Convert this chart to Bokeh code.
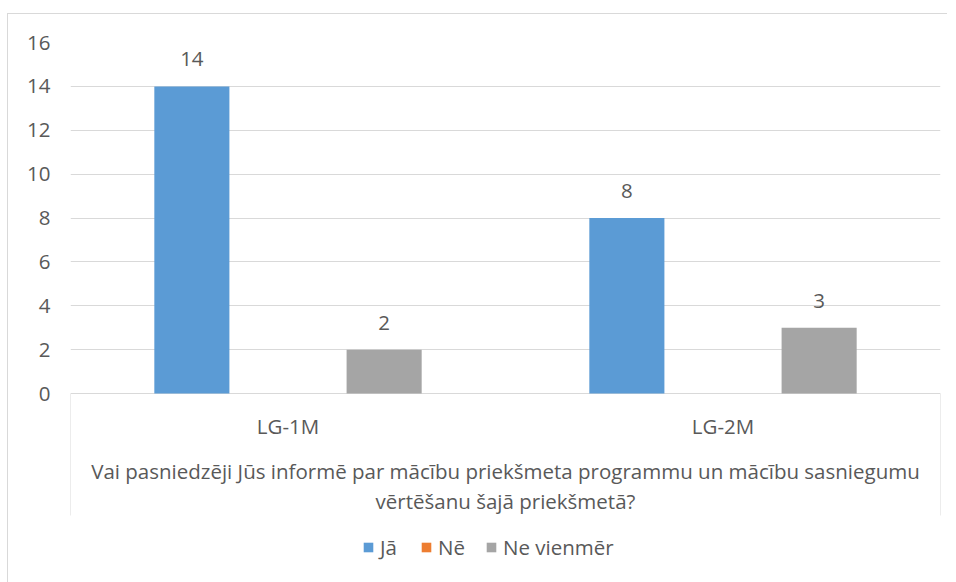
from bokeh.plotting import figure
from bokeh.models import Range1d, FixedTicker, ColumnDataSource, Legend, LegendItem
from bokeh.core.properties import value
from bokeh.embed import file_html
from bokeh.resources import INLINE

categories = ["LG-1M", "LG-2M"]
series = ["Jā", "Nē", "Ne vienmēr"]
ja = [14, 8]
ne = [0, 0]
ne_vienmer = [2, 3]
colors = ["#5B9BD5", "#ED7D31", "#A5A5A5"]
y_ticks = [0, 2, 4, 6, 8, 10, 12, 14, 16]
axis_title_lines = [
    "Vai pasniedzēji Jūs informē par mācību priekšmeta programmu un mācību sasniegumu",
    "vērtēšanu šajā priekšmetā?",
]

FONT = "Open Sans"
FS = "20.5px"
TXT = "#595959"
GRID = "#D9D9D9"

W, H = 940, 569
TOP, LEFT, RIGHT = 28, 62, 8
px_per_unit = 351 / 16.0
frame_h = H - TOP
y_start = 16 - frame_h / px_per_unit

n = len(categories)
p = figure(width=W, height=H, output_backend="svg", toolbar_location=None,
           x_range=Range1d(0, n), y_range=Range1d(y_start, 16),
           x_axis_location=None, min_border_top=TOP, min_border_left=LEFT,
           min_border_right=RIGHT, min_border_bottom=0)
p.margin = (13, 0, 0, 7)
p.styles = {"border-left": "1px solid #D9D9D9", "border-top": "1px solid #D9D9D9"}
p.outline_line_color = None
p.background_fill_color = "white"
p.border_fill_color = "white"
p.xgrid.visible = False
p.yaxis.ticker = FixedTicker(ticks=y_ticks)
p.ygrid.grid_line_color = GRID
p.ygrid.grid_line_width = 1
p.yaxis.axis_line_color = None
p.yaxis.major_tick_line_color = None
p.yaxis.minor_tick_line_color = None
p.yaxis.major_tick_out = 0
p.yaxis.major_tick_in = 0
p.yaxis.major_label_standoff = 20
p.yaxis.major_label_text_font = FONT
p.yaxis.major_label_text_font_size = FS
p.yaxis.major_label_text_color = TXT

cat_x = [i + 0.5 for i in range(n)]
offsets = [-0.221, 0.0, 0.221]
bar_w = 0.1726
vals = [ja, ne, ne_vienmer]

items = []
for name, v, off, col in zip(series, vals, offsets, colors):
    src = ColumnDataSource(dict(x=[c + off for c in cat_x], top=v,
                                lab=[str(t) for t in v]))
    r = p.vbar(x="x", top="top", width=bar_w, source=src, fill_color=col,
               line_color=None)
    items.append(LegendItem(label=name, renderers=[r]))
    lx = [c + off for c, t in zip(cat_x, v) if t > 0]
    ly = [t for t in v if t > 0]
    if lx:
        p.text(x=lx, y=ly, text=[str(t) for t in ly], y_offset=-27,
               text_align="center", text_baseline="middle",
               text_font=value(FONT), text_font_size=FS, text_color=TXT)

# multi-level category axis box
p.segment(x0=[0, n], y0=[0, 0], x1=[0, n], y1=[-5.56, -5.56],
          line_color=GRID, line_width=1)
p.text(x=cat_x, y=[-1.46] * n, text=categories, text_align="center",
       text_baseline="middle", text_font=value(FONT), text_font_size=FS,
       text_color=TXT)
p.text(x=[n / 2.0] * 2, y=[-3.51, -4.88], text=axis_title_lines,
       text_align="center", text_baseline="middle", text_font=value(FONT),
       text_font_size=FS, text_color=TXT)

legend = Legend(items=items, orientation="horizontal", location=(292, 22),
                border_line_color=None, background_fill_alpha=0,
                glyph_width=12, glyph_height=12, label_standoff=6, spacing=20,
                padding=0, margin=0, label_text_font=FONT,
                label_text_font_size=FS, label_text_color=TXT)
p.add_layout(legend, "center")

open("out.html", "w").write(file_html(p, INLINE))
